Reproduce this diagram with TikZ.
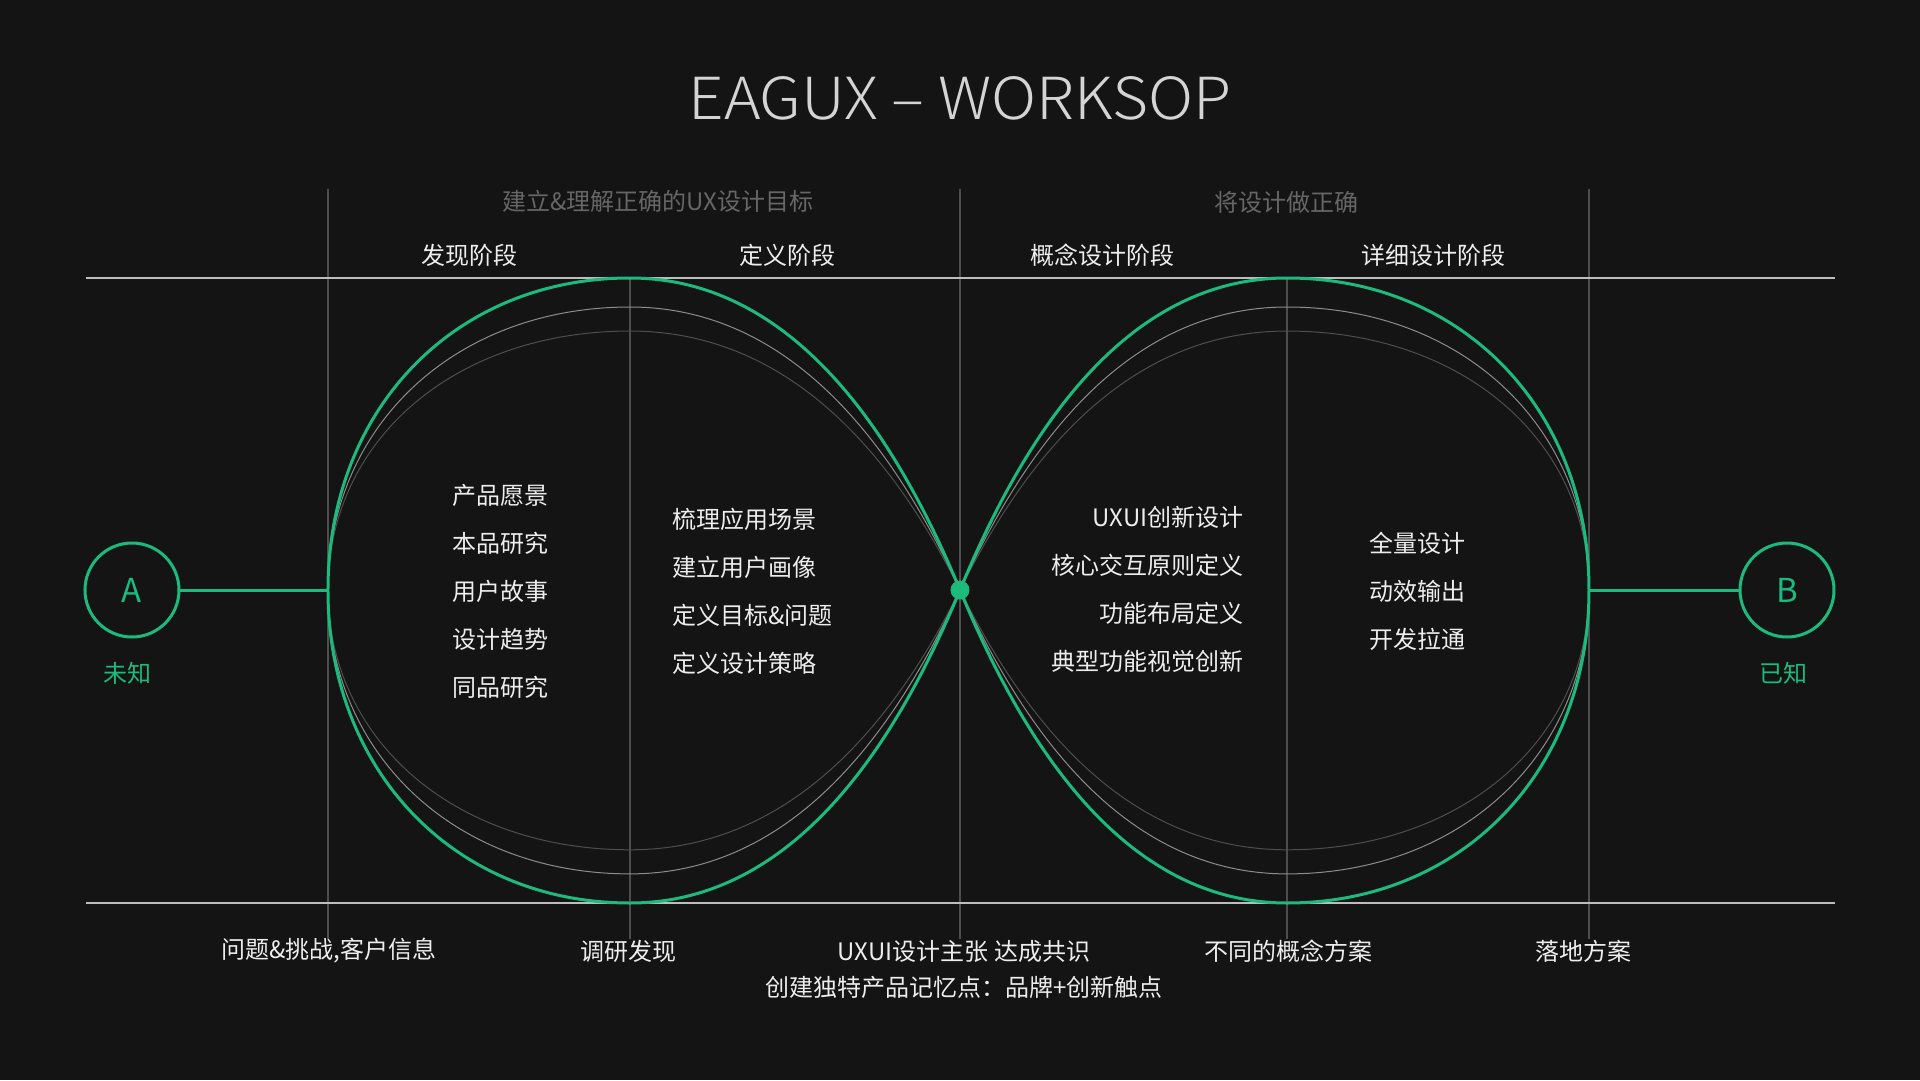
\documentclass[tikz,border=0pt]{standalone}
\usepackage{fontspec}
\setmainfont{Noto Sans CJK SC}
\newfontfamily\thinfont{Noto Sans CJK SC Light}[FakeStretch=1.07]
\definecolor{bgdark}{HTML}{141414}
\definecolor{uxgreen}{HTML}{1DBA7E}
\definecolor{softwhite}{HTML}{EDEDED}
\definecolor{titlegray}{HTML}{D4D4D4}
\definecolor{midgray}{HTML}{666666}
\definecolor{rulegray}{HTML}{BDBDBD}
\definecolor{gridgray}{HTML}{4E4E4E}
\definecolor{echogray}{HTML}{8C8C8C}

\begin{document}
\begin{tikzpicture}[x=1pt,y=1pt]
  \tikzstyle{Txt}=[inner sep=0pt,text=softwhite,font=\fontsize{24}{28}\selectfont]
  \tikzstyle{Goal}=[Txt,text=midgray]
  \tikzstyle{Item}=[Txt,anchor=west]
  \tikzstyle{ItemR}=[Txt,anchor=east]
  \tikzstyle{Grid}=[draw=gridgray,line width=1.2pt]
  \tikzstyle{Rule}=[draw=rulegray,line width=1.6pt]
  \tikzstyle{Loop}=[draw=uxgreen,line width=3pt]
  \tikzstyle{Pole}=[circle,draw=uxgreen,line width=3pt,minimum size=94pt,inner sep=0pt,text=uxgreen,font=\fontsize{33}{33}\selectfont]
  \tikzstyle{PoleLabel}=[Txt,text=uxgreen]

  \fill[bgdark] (-960,-490) rectangle (960,590);
  \useasboundingbox (-960,-490) rectangle (960,590);

  \node[Txt,text=titlegray,font=\thinfont\fontsize{58}{58}\selectfont] (title) at (0,492) {EAGUX – WORKSOP};

  % grid
  \foreach \x in {-632,0,629}
    \draw[Grid] (\x,401) -- (\x,-349);
  \foreach \x in {-330,327}
    \draw[Grid] (\x,312) -- (\x,-349);
  \draw[Rule] (-874,312) -- (875,312);
  \draw[Rule] (-874,-313) -- (875,-313);

  % inner echoes of the two lobes
  \foreach \s/\c in {0.83/gridgray,0.907/echogray}{
    \draw[\c,line width=1pt,yscale=\s] (0,0) .. controls (-58,140) and (-159,312) .. (-330,312)
      .. controls (-505,312) and (-632,181) .. (-632,0)
      .. controls (-632,-181) and (-505,-313) .. (-330,-313)
      .. controls (-159,-313) and (-58,-140) .. (0,0);
    \draw[\c,line width=1pt,yscale=\s] (0,0) .. controls (58,140) and (157,312) .. (327,312)
      .. controls (502,312) and (629,181) .. (629,0)
      .. controls (629,-181) and (502,-313) .. (327,-313)
      .. controls (157,-313) and (58,-140) .. (0,0);
  }
  \draw[Loop] (0,0) .. controls (-58,140) and (-159,312) .. (-330,312)
    .. controls (-505,312) and (-632,181) .. (-632,0)
    .. controls (-632,-181) and (-505,-313) .. (-330,-313)
    .. controls (-159,-313) and (-58,-140) .. (0,0);
  \draw[Loop] (0,0) .. controls (58,140) and (157,312) .. (327,312)
    .. controls (502,312) and (629,181) .. (629,0)
    .. controls (629,-181) and (502,-313) .. (327,-313)
    .. controls (157,-313) and (58,-140) .. (0,0);
  \node[circle,fill=uxgreen,minimum size=19pt,inner sep=0pt] (mid) at (0,0) {};

  % A and B
  \node[Pole] (A) at (-828,0) {A};
  \node[Pole] (B) at (827,0) {B};
  \coordinate (lobeL) at (-632,0);
  \coordinate (lobeR) at (629,0);
  \draw[Loop] (A) -- (lobeL);
  \draw[Loop] (B) -- (lobeR);
  \node[PoleLabel] (unknown) at (-832,-83) {未知};
  \node[PoleLabel] (known) at (823,-83) {已知};

  % headings
  \node[Goal] (goalL) at (-302,389) {建立\&理解正确的UX设计目标};
  \node[Goal] (goalR) at (326,388) {将设计做正确};
  \node[Txt] (stage1) at (-490,335) {发现阶段};
  \node[Txt] (stage2) at (-172,335) {定义阶段};
  \node[Txt] (stage3) at (143,335) {概念设计阶段};
  \node[Txt] (stage4) at (473,335) {详细设计阶段};

  % contents
  \foreach \t [count=\i] in {产品愿景,本品研究,用户故事,设计趋势,同品研究}
    \node[Item] (find\i) at (-508,{143-48*\i}) {\t};
  \foreach \t [count=\i] in {梳理应用场景,建立用户画像,定义目标\&问题,定义设计策略}
    \node[Item] (define\i) at (-288,{119-48*\i}) {\t};
  \foreach \t [count=\i] in {UXUI创新设计,核心交互原则定义,功能布局定义,典型功能视觉创新}
    \node[ItemR] (concept\i) at (284,{121-48*\i}) {\t};
  \foreach \t [count=\i] in {全量设计,动效输出,开发拉通}
    \node[Item] (detail\i) at (409,{95-48*\i}) {\t};

  % outputs
  \node[Txt] (out1) at (-631,-361) {问题\&挑战,客户信息};
  \node[Txt] (out2) at (-331,-361) {调研发现};
  \node[Txt] (out3) at (4,-361) {UXUI设计主张 达成共识};
  \node[Txt] (out3b) at (4,-397) {创建独特产品记忆点：品牌+创新触点};
  \node[Txt] (out4) at (328,-361) {不同的概念方案};
  \node[Txt] (out5) at (623,-361) {落地方案};
\end{tikzpicture}
\end{document}
